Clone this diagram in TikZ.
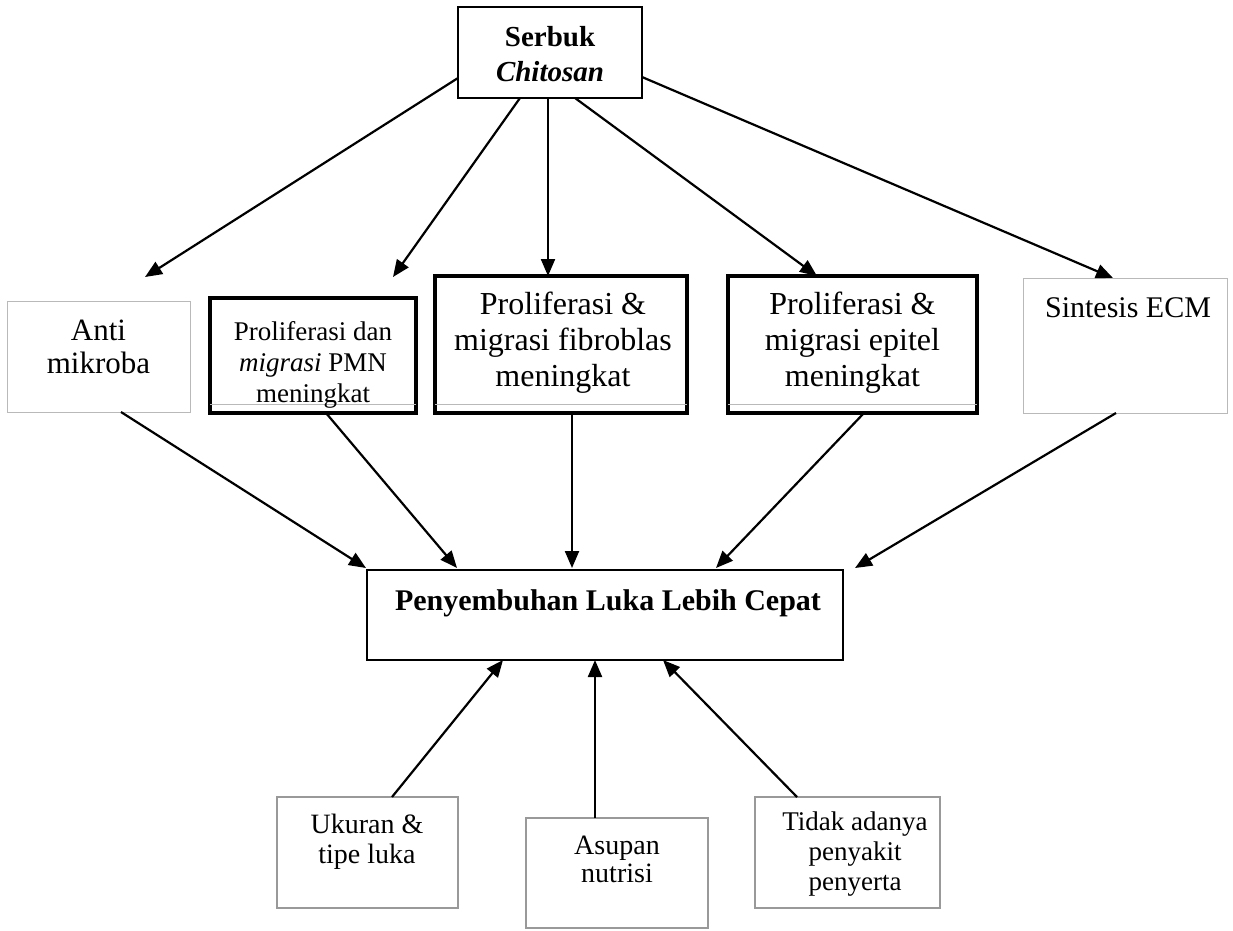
\documentclass[tikz,border=0pt]{standalone}
\usepackage{fontspec}
\setmainfont{Liberation Serif}
\usetikzlibrary{arrows.meta,calc}
\begin{document}
\begin{tikzpicture}[x=1pt,y=-1pt,
  box/.style={rectangle, draw, inner sep=0pt, outer sep=0pt, anchor=north west},
  boxmid/.style={box, line width=2.6pt},
  boxthick/.style={box, line width=4.2pt},
  boxlight/.style={box, draw=gray!55, line width=1pt},
  boxgray/.style={box, draw=gray!80, line width=1.8pt},
  txt/.style={align=center, inner sep=0pt, outer sep=0pt, anchor=center},
  arr/.style={line width=2.2pt, -{Triangle[length=17pt,width=14pt]}},
  inner line/.style={draw=gray!55, line width=1pt}
]
\useasboundingbox (0,0) rectangle (1233,930);
\fill[white] (0,0) rectangle (1233,930);

% boxes
\node[boxmid, minimum width=184pt, minimum height=91pt] (serbuk) at (458,7) {};
\node[boxlight, minimum width=183pt, minimum height=111pt] (anti) at (7,301) {};
\node[boxthick, minimum width=206pt, minimum height=115pt] (pmn) at (210,298) {};
\node[boxthick, minimum width=252pt, minimum height=137pt] (fib) at (435,276) {};
\node[boxthick, minimum width=249pt, minimum height=137pt] (epi) at (728,276) {};
\node[boxlight, minimum width=204pt, minimum height=135pt] (ecm) at (1023,278) {};
\node[boxmid, line width=2.2pt, minimum width=476pt, minimum height=90pt] (heal) at (367,570) {};
\node[boxgray, minimum width=181pt, minimum height=111pt] (uk) at (277,797) {};
\node[boxgray, minimum width=182pt, minimum height=110pt] (asu) at (526,818) {};
\node[boxgray, minimum width=185pt, minimum height=111pt] (tid) at (755,797) {};

% thin inner lines above bottom of thick boxes
\draw[inner line] ($(pmn.south west)+(0,-9)$) -- ($(pmn.south east)+(0,-9)$);
\draw[inner line] ($(fib.south west)+(0,-9)$) -- ($(fib.south east)+(0,-9)$);
\draw[inner line] ($(epi.south west)+(0,-9)$) -- ($(epi.south east)+(0,-9)$);

% texts
\node[txt, font=\fontsize{29}{35}\selectfont\bfseries] (serbukT) at (550,54.5) {Serbuk\\\textit{Chitosan}};
\node[txt, font=\fontsize{31}{33}\selectfont] (antiT) at (98.5,346.5) {Anti\\mikroba};
\node[txt, font=\fontsize{27}{31}\selectfont] (pmnT) at (313,365) {Proliferasi dan\\\textit{migrasi} PMN\\meningkat};
\node[txt, font=\fontsize{32}{36}\selectfont] (fibT) at (563,343) {Proliferasi \&\\migrasi fibroblas\\meningkat};
\node[txt, font=\fontsize{32}{36}\selectfont] (epiT) at (852.5,343) {Proliferasi \&\\migrasi epitel\\meningkat};
\node[txt, font=\fontsize{30}{34}\selectfont] (ecmT) at (1128,308) {Sintesis ECM};
\node[txt, font=\fontsize{30}{34}\selectfont\bfseries] (healT) at (608,603.5) {Penyembuhan Luka Lebih Cepat};
\node[txt, font=\fontsize{28}{30}\selectfont] (ukT) at (367,842) {Ukuran \&\\tipe luka};
\node[txt, font=\fontsize{28}{28}\selectfont] (asuT) at (617,859.5) {Asupan\\nutrisi};
\node[txt, font=\fontsize{27}{30}\selectfont] (tidT) at (855,854) {Tidak adanya\\penyakit\\penyerta};

% arrows from Serbuk Chitosan
\draw[arr] ($(serbuk.north west)+(0,71)$) -- ($(anti.north)+(46.5,-24)$);
\draw[arr] ($(serbuk.south west)+(62,0)$) -- ($(pmn.north)+(80,-21)$);
\draw[arr] ($(serbuk.south west)+(90,0)$) -- ($(fib.north)+(-13,0)$);
\draw[arr] ($(serbuk.south west)+(117,0)$) -- ($(epi.north)+(-35.5,0)$);
\draw[arr] ($(serbuk.north east)+(0,70)$) -- ($(ecm.north)+(-12,0)$);

% arrows into Penyembuhan
\draw[arr] ($(anti.south)+(22.5,0)$) -- ($(heal.north west)+(-1,-2)$);
\draw[arr] ($(pmn.south)+(13,0)$) -- ($(heal.north west)+(90,-2)$);
\draw[arr] ($(fib.south)+(11,0)$) -- ($(heal.north west)+(205,-2)$);
\draw[arr] ($(epi.south)+(11.5,0)$) -- ($(heal.north west)+(349,-2)$);
\draw[arr] ($(ecm.south)+(-9,0)$) -- ($(heal.north east)+(12,-2)$);

% arrows from bottom factors
\draw[arr] ($(uk.north west)+(115,0)$) -- ($(heal.south west)+(136,0)$);
\draw[arr] ($(asu.north west)+(69,0)$) -- ($(heal.south west)+(228,0)$);
\draw[arr] ($(tid.north west)+(42,0)$) -- ($(heal.south west)+(296,0)$);
\end{tikzpicture}
\end{document}
